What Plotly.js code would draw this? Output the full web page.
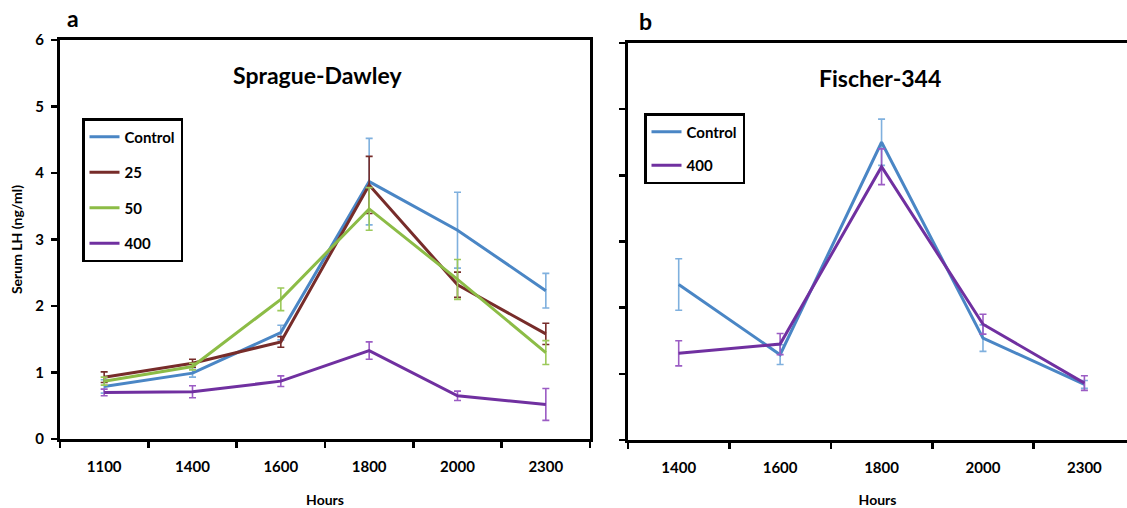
<!DOCTYPE html>
<html>
<head>
<meta charset="utf-8">
<script src="https://cdn.plot.ly/plotly-3.0.1.min.js"></script>
<style>html,body{margin:0;padding:0;background:#fff;}#chart{width:1127px;height:508px;}</style>
</head>
<body>
<div id="chart"></div>
<script>
// ---- Data ----
const hoursA = ["1100", "1400", "1600", "1800", "2000", "2300"];
const hoursB = ["1400", "1600", "1800", "2000", "2300"];

const sdControl = [0.79, 0.99, 1.60, 3.87, 3.14, 2.23];
const sdControlErr = [0.10, 0.06, 0.11, 0.65, 0.57, 0.26];
const sd25 = [0.93, 1.14, 1.46, 3.82, 2.32, 1.58];
const sd25Err = [0.08, 0.06, 0.08, 0.43, 0.19, 0.16];
const sd50 = [0.87, 1.09, 2.10, 3.46, 2.40, 1.30];
const sd50Err = [0.06, 0.05, 0.17, 0.32, 0.30, 0.18];
const sd400 = [0.70, 0.71, 0.87, 1.33, 0.65, 0.52];
const sd400Err = [0.05, 0.09, 0.08, 0.13, 0.07, 0.24];

const fControl = [2.35, 1.29, 4.50, 1.54, 0.84];
const fControlErr = [0.39, 0.15, 0.35, 0.20, 0.06];
const f400 = [1.31, 1.45, 4.13, 1.75, 0.86];
const f400Err = [0.19, 0.16, 0.27, 0.15, 0.11];

const seriesNames = ["Control", "25", "50", "400"];
const lineColors = ["#4a86c5", "#772c2a", "#8cbc46", "#7030a0"];
const errColors = ["#7fb0de", "#772c2a", "#9cc95a", "#9b5cc4"];

const FONT = "Lato, 'Open Sans', sans-serif";

function trace(x, y, err, idx, xa, ya, legend) {
  return {
    type: "scatter", mode: "lines", x: x, y: y,
    name: seriesNames[idx], xaxis: xa, yaxis: ya, legend: legend,
    legendgroup: legend + idx,
    line: {color: lineColors[idx], width: 3},
    error_y: {type: "data", array: err, visible: true, color: errColors[idx], thickness: 1.6, width: 3.5},
    hoverinfo: "skip"
  };
}

const data = [
  trace(hoursA, sdControl, sdControlErr, 0, "x", "y", "legend"),
  trace(hoursA, sd25, sd25Err, 1, "x", "y", "legend"),
  trace(hoursA, sd50, sd50Err, 2, "x", "y", "legend"),
  trace(hoursA, sd400, sd400Err, 3, "x", "y", "legend"),
  trace(hoursB, fControl, fControlErr, 0, "x2", "y2", "legend2"),
  trace(hoursB, f400, f400Err, 3, "x2", "y2", "legend2")
];

const W = 1127, H = 508;
const px = v => v / W;
const py = v => (H - v) / H;

const tickFont = {family: FONT, size: 15, color: "#000", weight: 700};
const titleFont = {family: FONT, size: 14, weight: 700, color: "#000"};
const axisCommon = {
  showline: true, linecolor: "#000", linewidth: 3,
  ticks: "outside", ticklen: 6, tickwidth: 2.5, tickcolor: "#000",
  showgrid: false, zeroline: false, tickfont: tickFont, fixedrange: true
};

const layout = {
  width: W, height: H,
  margin: {l: 0, r: 0, t: 0, b: 0},
  paper_bgcolor: "#fff", plot_bgcolor: "#fff",
  font: {family: FONT, color: "#000"},
  showlegend: true,
  xaxis: Object.assign({}, axisCommon, {
    domain: [px(60), px(590)], anchor: "y", type: "category",
    categoryorder: "array", categoryarray: hoursA,
    range: [-0.5, 5.5], tickson: "boundaries", mirror: true,
    ticklabelstandoff: 12,
    title: {text: "Hours", font: titleFont, standoff: 22}
  }),
  yaxis: Object.assign({}, axisCommon, {
    domain: [py(439), py(40)], anchor: "x", range: [0, 6], dtick: 1, mirror: true,
    ticklabelstandoff: 4,
    title: {text: "Serum LH (ng/ml)", font: titleFont, standoff: 10}
  }),
  xaxis2: Object.assign({}, axisCommon, {
    domain: [px(628), 1], anchor: "y2", type: "category",
    categoryorder: "array", categoryarray: hoursB,
    range: [-0.5, 4.42], tickson: "boundaries", mirror: true,
    ticklabelstandoff: 12,
    title: {text: "Hours", font: titleFont, standoff: 24}
  }),
  yaxis2: Object.assign({}, axisCommon, {
    domain: [py(440), py(43)], anchor: "x2", range: [0, 6], dtick: 1,
    showticklabels: false, mirror: false
  }),
  legend: {
    x: px(82), y: py(118), xanchor: "left", yanchor: "top",
    bgcolor: "#fff", bordercolor: "#000", borderwidth: 2.5,
    font: {family: FONT, size: 15, weight: 700, color: "#000"},
    tracegroupgap: 13, itemwidth: 30
  },
  legend2: {
    x: px(644), y: py(113), xanchor: "left", yanchor: "top",
    bgcolor: "#fff", bordercolor: "#000", borderwidth: 2.5,
    font: {family: FONT, size: 15, weight: 700, color: "#000"},
    tracegroupgap: 11, itemwidth: 30
  },
  annotations: [
    {text: "Sprague-Dawley", xref: "paper", yref: "paper", x: px(317), y: py(75), xanchor: "center", yanchor: "middle", showarrow: false, font: {family: FONT, size: 23, weight: 700, color: "#000"}},
    {text: "Fischer-344", xref: "paper", yref: "paper", x: px(880), y: py(78), xanchor: "center", yanchor: "middle", showarrow: false, font: {family: FONT, size: 23, weight: 700, color: "#000"}},
    {text: "a", xref: "paper", yref: "paper", x: px(73), y: py(18), xanchor: "center", yanchor: "middle", showarrow: false, font: {family: FONT, size: 23, weight: 700, color: "#000"}},
    {text: "b", xref: "paper", yref: "paper", x: px(645), y: py(21), xanchor: "center", yanchor: "middle", showarrow: false, font: {family: FONT, size: 23, weight: 700, color: "#000"}}
  ]
};

Plotly.newPlot("chart", data, layout, {displayModeBar: false, staticPlot: true});
</script>
</body>
</html>
